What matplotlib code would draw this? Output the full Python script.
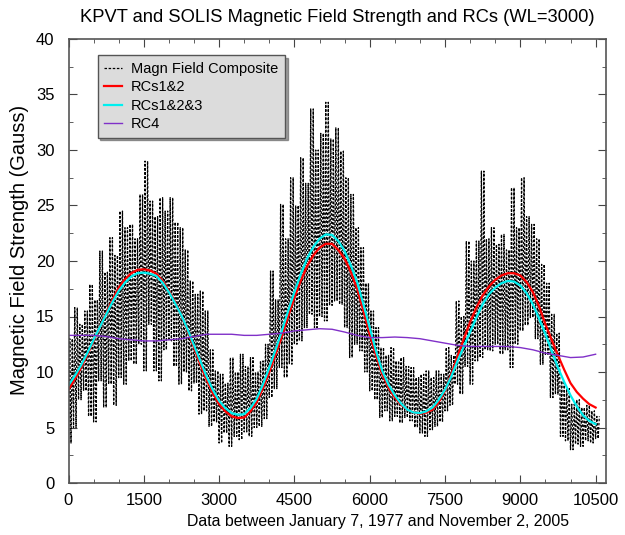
import numpy as np
import matplotlib
matplotlib.use("Agg")
import matplotlib.pyplot as plt

plt.rcParams["font.family"] = ["Liberation Sans", "DejaVu Sans"]

# daily composite, read as (high, low) envelope per 100-day bin starting at day 0
bin_width = 100
comp_hi = [13.0, 15.8, 14.3, 15.5, 17.9, 16.5, 20.9, 19.0, 22.1, 20.5,
           24.5, 23.0, 23.3, 22.0, 26.0, 29.0, 25.4, 24.0, 25.7, 24.5,
           25.7, 23.5, 23.0, 21.0, 18.2, 17.0, 17.3, 15.5, 12.0, 10.1,
           9.8, 9.0, 11.3, 10.0, 11.6, 10.5, 11.3, 10.0, 11.0, 12.5,
           19.1, 16.5, 25.1, 22.0, 27.5, 25.0, 29.3, 27.0, 33.7, 30.0,
           31.5, 34.3, 31.0, 32.0, 29.9, 27.5, 26.0, 23.0, 21.2, 18.0,
           15.5, 14.0, 12.2, 11.5, 12.2, 11.0, 11.3, 10.5, 10.4, 9.5,
           9.8, 10.1, 9.5, 10.1, 9.8, 12.2, 11.5, 16.4, 15.0, 21.8,
           20.0, 21.8, 28.1, 22.0, 23.0, 21.5, 22.4, 21.0, 26.6, 23.0,
           27.5, 24.0, 23.3, 22.0, 19.7, 18.0, 15.2, 13.5, 9.2, 8.5,
           7.1, 7.5, 6.8, 7.0, 6.5, 6.0]
comp_lo = [3.6, 5.0, 7.5, 8.3, 6.0, 5.5, 9.2, 6.8, 8.9, 7.0,
           9.5, 8.9, 11.0, 10.7, 12.5, 10.1, 14.3, 10.1, 9.2, 12.0,
           12.8, 10.5, 8.9, 10.0, 8.3, 9.0, 6.2, 6.5, 5.1, 5.5,
           3.6, 4.5, 3.3, 4.2, 3.9, 4.6, 4.2, 5.0, 5.1, 5.8,
           7.7, 8.5, 10.4, 9.5, 10.7, 12.5, 12.8, 14.0, 15.2, 14.0,
           15.0, 14.6, 16.0, 16.4, 16.1, 14.0, 11.3, 12.5, 11.9, 10.0,
           8.3, 7.5, 5.9, 6.5, 5.6, 6.0, 5.4, 5.9, 5.6, 5.0,
           4.5, 4.2, 4.8, 5.1, 5.5, 6.5, 7.0, 8.9, 8.0, 10.5,
           8.9, 11.0, 11.3, 12.0, 11.9, 12.5, 11.6, 12.0, 10.4, 12.5,
           13.7, 14.2, 14.9, 13.0, 10.7, 11.5, 7.7, 8.0, 4.2, 3.8,
           3.0, 3.5, 3.3, 3.8, 3.6, 4.0]

# reconstructed components RCs1&2 and RCs1&2&3, every 125 days
rc_day = list(range(0, 10501, 125))
rc12 = [8.4, 9.35, 10.4, 11.55, 12.8, 14.05, 15.3, 16.5, 17.6, 18.35,
        18.9, 19.2, 19.25, 19.15, 18.85, 18.2, 17.3, 16.3, 15.1, 13.7,
        12.2, 10.7, 9.3, 8.1, 7.1, 6.45, 6.0, 5.85, 5.9, 6.45,
        7.3, 8.55, 10.0, 11.6, 13.2, 15.0, 16.7, 18.2, 19.5, 20.5,
        21.2, 21.55, 21.55, 21.0, 20.2, 19.0, 17.5, 15.5, 13.4, 11.5,
        9.8, 8.6, 7.7, 7.05, 6.6, 6.35, 6.25, 6.35, 6.6, 7.3,
        8.3, 9.8, 11.4, 13.0, 14.5, 15.8, 16.9, 17.7, 18.3, 18.7,
        18.9, 18.9, 18.7, 18.1, 17.2, 15.9, 14.3, 12.9, 11.5, 10.2,
        9.0, 8.2, 7.6, 7.1, 6.8]
rc123 = [8.8, 9.65, 10.6, 11.7, 12.9, 14.05, 15.2, 16.3, 17.3, 18.05,
         18.6, 18.9, 18.95, 18.85, 18.65, 18.05, 17.2, 16.2, 15.1, 13.8,
         12.4, 11.0, 9.6, 8.4, 7.4, 6.75, 6.3, 6.15, 6.2, 6.75,
         7.6, 8.9, 10.4, 12.0, 13.7, 15.5, 17.2, 18.8, 20.2, 21.25,
         22.0, 22.4, 22.35, 21.8, 20.9, 19.6, 18.1, 16.1, 14.0, 11.9,
         10.1, 8.85, 7.9, 7.15, 6.6, 6.35, 6.3, 6.45, 6.8, 7.5,
         8.4, 9.6, 11.0, 12.3, 13.6, 14.9, 16.1, 17.0, 17.6, 18.0,
         18.2, 18.15, 17.8, 17.1, 16.1, 14.8, 13.4, 11.9, 10.4, 9.1,
         7.9, 6.9, 6.1, 5.6, 5.3]

# RC4, every 250 days
rc4_day = list(range(0, 10501, 250))
rc4 = [13.3, 13.3, 13.3, 13.2, 13.0, 12.9, 12.8, 12.8, 12.9, 13.0,
       13.2, 13.4, 13.4, 13.4, 13.3, 13.3, 13.4, 13.5, 13.7, 13.8,
       13.9, 13.85, 13.6, 13.3, 13.1, 13.1, 13.15, 13.1, 13.0, 12.8,
       12.6, 12.4, 12.3, 12.3, 12.3, 12.3, 12.2, 12.0, 11.7, 11.5,
       11.3, 11.35, 11.6]

# zigzag low/high twice through each bin
comp_x, comp_y = [], []
for i in range(len(comp_hi)):
    d = i * bin_width
    comp_x += [d, d + 25, d + 50, d + 75]
    comp_y += [comp_lo[i], comp_hi[i], comp_lo[i], comp_hi[i]]

fig = plt.figure(figsize=(6.25, 5.35), dpi=100)
ax = fig.add_axes([68.5 / 625, 1 - 483 / 535, (606 - 68.5) / 625, (483 - 39) / 535])

ax.plot(comp_x, comp_y, color="black", lw=0.9, ls=(0, (2, 1.3)), label="Magn Field Composite")
ax.plot(rc_day, rc12, color="#ff0000", lw=1.6, label="RCs1&2")
ax.plot(rc_day, rc123, color="#00f0f0", lw=1.6, label="RCs1&2&3")
ax.plot(rc4_day, rc4, color="#8030c8", lw=1.0, label="RC4")

ax.set_xlim(0, 10707)
ax.set_ylim(0, 40)
ax.set_xticks(np.arange(0, 10501, 1500))
ax.set_xticks(np.arange(0, 10501, 500), minor=True)
ax.set_yticks(np.arange(0, 41, 5))
ax.set_yticks(np.arange(0, 40.1, 2.5), minor=True)
ax.tick_params(which="both", direction="in", top=True, right=True, labelsize=12, color="#444444")
ax.tick_params(which="major", length=6)
ax.tick_params(which="minor", length=3)
ax.tick_params(axis="y", pad=10)
ax.tick_params(axis="x", pad=7)
for s in ax.spines.values():
    s.set_color("#555555")
    s.set_linewidth(1.2)

ax.set_title("KPVT and SOLIS Magnetic Field Strength and RCs (WL=3000)", fontsize=13.2, pad=12)
ax.set_xlabel("Data between January 7, 1977 and November 2, 2005", fontsize=11.4)
ax.xaxis.set_label_coords((378 - 68.5) / 537.5, -0.070)
ax.set_ylabel("Magnetic Field Strength (Gauss)", fontsize=14.5)
ax.yaxis.set_label_coords(-0.073, (483 - 250) / 444)

leg = ax.legend(loc="upper left", bbox_to_anchor=(0.054, 0.963), borderaxespad=0,
                fancybox=False, shadow=True, fontsize=10.5, handlelength=1.25,
                handletextpad=0.6, labelspacing=0.3, borderpad=0.45)
leg.get_frame().set_facecolor("#dcdcdc")
leg.get_frame().set_edgecolor("#555555")
leg.get_frame().set_alpha(1)

fig.savefig("out.png", dpi=100)
